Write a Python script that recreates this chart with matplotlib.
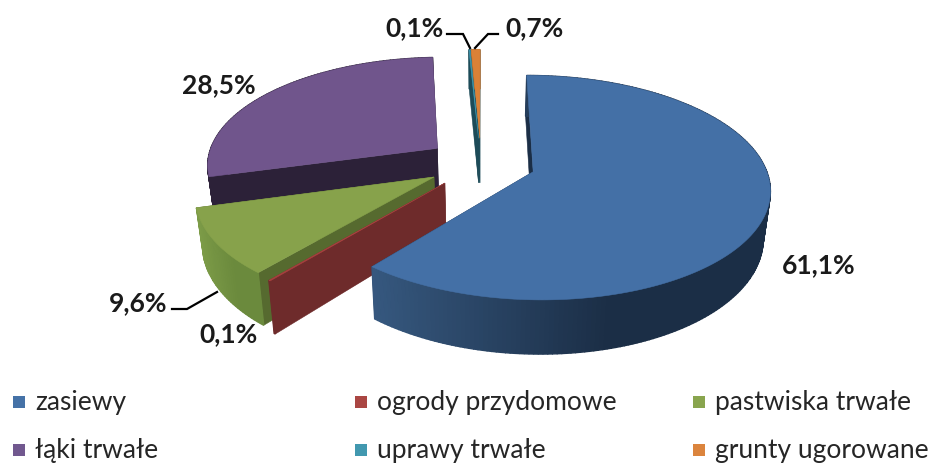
import numpy as np
import matplotlib
matplotlib.use('Agg')
import matplotlib.pyplot as plt
from matplotlib.colors import to_rgb
from matplotlib.patches import Rectangle

plt.rcParams['font.family'] = ['Lato', 'DejaVu Sans']

# ── DATA ──────────────────────────────────────────────────────────────────────
categories = ['zasiewy', 'ogrody przydomowe', 'pastwiska trwałe',
              'łąki trwałe', 'uprawy trwałe', 'grunty ugorowane']
values = [61.1, 0.1, 9.6, 28.5, 0.1, 0.7]
value_labels = ['61,1%', '0,1%', '9,6%', '28,5%', '0,1%', '0,7%']

# ── STYLE ─────────────────────────────────────────────────────────────────────
top_colors = ['#4470a6', '#a8423f', '#87a24b', '#70558c', '#3d96ae', '#da8137']
legend_colors = ['#4572a7', '#aa4643', '#89a54e', '#71588f', '#4198af', '#db843d']
face_colors = ['#1b2e46', '#6e2b2b', '#566a2f', '#2c2138', '#1d4b58', '#1d4b58']
side_light = ['#36587f', '#6e2b2b', '#7c9b47', '#2c2138', '#1d4b58', '#a86a30']
side_dark = ['#1b2e46', '#6e2b2b', '#6b8a3d', '#2c2138', '#1d4b58', '#a86a30']

label_pos = [(819, 265), (229, 334), (138, 303), (219, 85), (414, 28), (534, 28)]
leaders = [[(172, 310), (187, 310), (217, 293)],
           [(447, 35), (463, 35), (470, 49)],
           [(498, 35), (488, 35), (475, 49)]]
legend_x = [19, 361, 699]
legend_y = [403, 451]

# projection of the pie disc onto the picture (pixels)
CX, CY = 481, 164
A, B = 231, 107.5
K = 0.14        # perspective
EXPLODE = 0.2375
DEPTH = 46
SHRINK = 0.975  # lower rim is a bit narrower than the top one


def project(u, v, lower=False):
    w = 1 + K * v
    x = CX + A * u / w
    y = CY - B * v / w
    if lower:
        x = CX + (x - CX) * SHRINK
        y = y + DEPTH / w
    return x, y


def mix(c1, c2, t):
    c1, c2 = np.array(to_rgb(c1)), np.array(to_rgb(c2))
    return tuple(c1 + (c2 - c1) * t)


# ── PLOT ──────────────────────────────────────────────────────────────────────
fig = plt.figure(figsize=(9.34, 4.64), dpi=100)
ax = fig.add_axes([0, 0, 1, 1])
ax.set_xlim(0, 934)
ax.set_ylim(464, 0)
ax.axis('off')

fractions = np.array(values) / np.sum(values)
edges = np.concatenate([[0], np.cumsum(fractions)]) * 2 * np.pi

# back slices first, the big blue one goes on top
for i in [5, 4, 3, 2, 1, 0]:
    t1, t2 = edges[i], edges[i + 1]
    mid = (t1 + t2) / 2
    u0, v0 = EXPLODE * np.sin(mid), EXPLODE * np.cos(mid)
    theta = np.linspace(t1, t2, max(int(np.degrees(t2 - t1)), 2))
    u = u0 + np.sin(theta)
    v = v0 + np.cos(theta)

    # radial faces
    ax_top, ay_top = project(u0, v0)
    ax_low, ay_low = project(u0, v0, lower=True)
    for j in [-1, 0]:
        rx_top, ry_top = project(u[j], v[j])
        rx_low, ry_low = project(u[j], v[j], lower=True)
        ax.fill([ax_top, rx_top, rx_low, ax_low], [ay_top, ry_top, ry_low, ay_low],
                color=face_colors[i], lw=0.4, zorder=i * -10 + 60)

    # outer wall, shaded strip by strip
    xs_top, ys_top = project(u, v)
    xs_low, ys_low = project(u, v, lower=True)
    stop = xs_top.min() + 0.6 * (xs_top.max() - xs_top.min())
    for j in range(len(theta) - 1):
        s = np.clip((xs_top[j] - xs_top.min()) / max(stop - xs_top.min(), 1), 0, 1)
        ax.fill([xs_top[j], xs_top[j + 1], xs_low[j + 1], xs_low[j]],
                [ys_top[j], ys_top[j + 1], ys_low[j + 1], ys_low[j]],
                color=mix(side_light[i], side_dark[i], s), lw=1.0,
                zorder=i * -10 + 61)

    # top face
    ax.fill(np.r_[ax_top, xs_top], np.r_[ay_top, ys_top], color=top_colors[i],
            lw=0.4, zorder=i * -10 + 62)

for (x, y), txt in zip(label_pos, value_labels):
    ax.text(x, y, txt, ha='center', va='center', fontsize=19, fontweight='bold',
            color='#1a1a1a', zorder=100)

for line in leaders:
    ax.plot([p[0] for p in line], [p[1] for p in line], color='black', lw=1.6,
            solid_joinstyle='miter', zorder=90)

# legend, three columns by two rows
for n, name in enumerate(categories):
    x = legend_x[n % 3]
    y = legend_y[n // 3]
    ax.add_patch(Rectangle((x - 6, y - 6), 12, 12, color=legend_colors[n], lw=0))
    ax.text(x + 16, y, name, ha='left', va='center', fontsize=19, color='#262626')

fig.savefig('out.png', dpi=100)
